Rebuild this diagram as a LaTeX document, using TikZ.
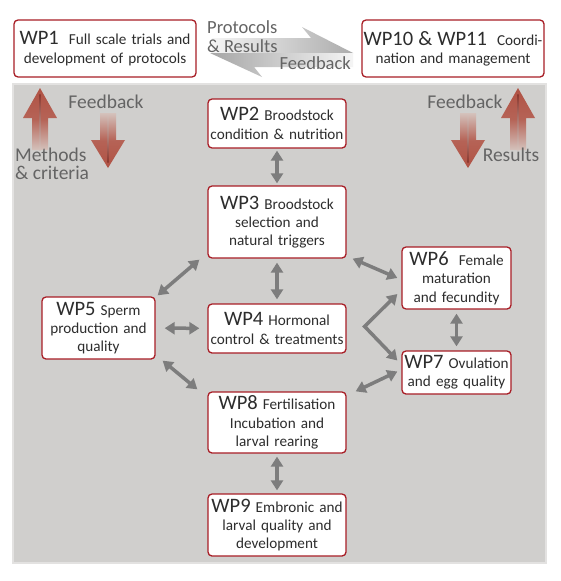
\documentclass[tikz,border=0pt]{standalone}
\usepackage{fontspec}
\setmainfont{Carlito}
\usetikzlibrary{arrows.meta}
\definecolor{panel}{RGB}{208,207,205}
\definecolor{wpred}{RGB}{168,30,38}
\definecolor{garr}{RGB}{125,125,125}
\definecolor{txt}{RGB}{45,45,45}
\definecolor{lbl}{RGB}{100,100,100}
\definecolor{redhead}{RGB}{176,82,68}
\definecolor{reddark}{RGB}{140,55,45}
\definecolor{redfade}{RGB}{212,194,188}
\newcommand\wpn[1]{{\fontsize{20.5}{18}\selectfont #1}}
\begin{document}
\begin{tikzpicture}[x=1pt,y=-1pt,
  wpbox/.style={draw=wpred, line width=1.3pt, fill=white, rounded corners=4pt,
    inner sep=0pt, align=center, text=txt, font=\fontsize{15.2}{18.3}\selectfont},
  garrow/.style={draw=garr, line width=3.5pt, line join=miter,
    {Triangle[length=10pt,width=12pt]}-{Triangle[length=10pt,width=12pt]}},
  lbltext/.style={text=lbl, font=\fontsize{19.5}{18}\selectfont, inner sep=0pt}
]
\useasboundingbox (0,0) rectangle (560,581);
\fill[white] (0,0) rectangle (560,581);
% panel
\fill[panel!60!white] (12,83) rectangle (547,564);
\fill[panel] (14,85) rectangle (545,562);

% top swap arrows
\shade[left color=white!92!gray, right color=gray!65] (212,38) -- (311,38) -- (302,27) -- (353,53) -- (212,53) -- cycle;
\shade[left color=gray!70, right color=white!92!gray] (353,53) -- (210,53) -- (262,77) -- (254,67) -- (353,67) -- cycle;
\node[lbltext, anchor=west, align=left, font=\fontsize{18.5}{18.5}\selectfont] (tprot) at (207,36.5) {Protocols\\\& Results};
\node[lbltext, anchor=east, font=\fontsize{18.5}{18}\selectfont] (tfb) at (351,63) {Feedback};

% red gradient arrows: up (left)
\shade[top color=redhead, bottom color=redfade, middle color=redhead!85!redfade]
  (40,88) -- (57,118) -- (48,118) -- (48,150) -- (32,150) -- (32,118) -- (23,118) -- cycle;
\shade[top color=reddark, bottom color=redfade] (39.3,94) rectangle (40.7,150);
% down (left)
\shade[bottom color=redhead, top color=redfade, middle color=redhead!85!redfade]
  (108,168) -- (125,140) -- (116,140) -- (116,113) -- (100,113) -- (100,140) -- (91,140) -- cycle;
\shade[bottom color=reddark, top color=redfade] (107.3,113) rectangle (108.7,162);
% down (right)
\shade[bottom color=redhead, top color=redfade, middle color=redhead!85!redfade]
  (468,168) -- (485,140) -- (476,140) -- (476,113) -- (460,113) -- (460,140) -- (451,140) -- cycle;
\shade[bottom color=reddark, top color=redfade] (467.3,113) rectangle (468.7,162);
% up (right)
\shade[top color=redhead, bottom color=redfade, middle color=redhead!85!redfade]
  (518,88) -- (535,118) -- (526,118) -- (526,150) -- (510,150) -- (510,118) -- (501,118) -- cycle;
\shade[top color=reddark, bottom color=redfade] (517.3,94) rectangle (518.7,150);

\node[lbltext] (lfb) at (106,102) {Feedback};
\node[lbltext, anchor=west, align=left, font=\fontsize{19.5}{18}\selectfont] (lmeth) at (15,164) {Methods\\\& criteria};
\node[lbltext] (rfb) at (465,102) {Feedback};
\node[lbltext] (rres) at (511,155) {Results};

% boxes
\node[wpbox, minimum width=182pt, minimum height=57pt, text width=180pt] (wp1) at (105,48.5)
  {\wpn{WP1}\ \ Full scale trials and\\development of protocols};
\node[wpbox, minimum width=182pt, minimum height=57pt, text width=180pt] (wp10) at (453,48.5)
  {\wpn{WP10 \& WP11}\ \ Coordi-\\nation and management};
\node[wpbox, minimum width=138pt, minimum height=49pt, text width=136pt] (wp2) at (277,123.5)
  {\wpn{WP2} Broodstock\\condition \& nutrition};
\node[wpbox, minimum width=138pt, minimum height=72pt, text width=136pt] (wp3) at (277,222)
  {\wpn{WP3} Broodstock\\selection and\\natural triggers};
\node[wpbox, minimum width=138pt, minimum height=49pt, text width=136pt] (wp4) at (277,328.5)
  {\wpn{WP4} Hormonal\\control \& treatments};
\node[wpbox, minimum width=113pt, minimum height=62pt, text width=111pt] (wp5) at (98.5,328)
  {\wpn{WP5} Sperm\\production and\\quality};
\node[wpbox, minimum width=109pt, minimum height=62pt, text width=107pt] (wp6) at (456.5,278)
  {\wpn{WP6}\ \ Female\\maturation\\and fecundity};
\node[wpbox, minimum width=109pt, minimum height=43pt, text width=107pt] (wp7) at (456.5,372.5)
  {\wpn{WP7} Ovulation\\and egg quality};
\node[wpbox, minimum width=138pt, minimum height=61pt, text width=136pt] (wp8) at (277,422.5)
  {\wpn{WP8} Fertilisation\\Incubation and\\larval rearing};
\node[wpbox, minimum width=138pt, minimum height=62pt, text width=136pt] (wp9) at (277,525)
  {\wpn{WP9} Embronic and\\larval quality and\\development};

% connectors
\draw[garrow, shorten <=2pt, shorten >=2pt] (wp2) -- (wp3);
\draw[garrow, shorten <=4pt, shorten >=4pt] (wp3) -- (wp4);
\draw[garrow, shorten <=3pt, shorten >=3pt] (wp8) -- (wp9);
\draw[garrow, shorten <=4pt, shorten >=4pt] (wp6) -- (wp7);
\draw[garrow, shorten <=9pt, shorten >=8pt] (wp5) -- (wp4);
\draw[garrow] ([shift={(2,-1)}]wp5.north east) -- ([shift={(-8,1)}]wp3.south west);
\draw[garrow] ([shift={(7,1)}]wp5.south east) -- ([shift={(-10,-2)}]wp8.north west);
\draw[garrow] ([shift={(6,0)}]wp3.south east) -- ([shift={(-4,0)}]wp6.west);
\draw[garrow] ([shift={(9,0)}]wp8.north east) -- ([shift={(-4,-1)}]wp7.west);
\coordinate (fork) at ([shift={(18,-2)}]wp4.east);
\draw[garrow] ([shift={(-4,16)}]wp6.west) -- (fork) -- ([shift={(-4,-12)}]wp7.west);
\end{tikzpicture}
\end{document}
